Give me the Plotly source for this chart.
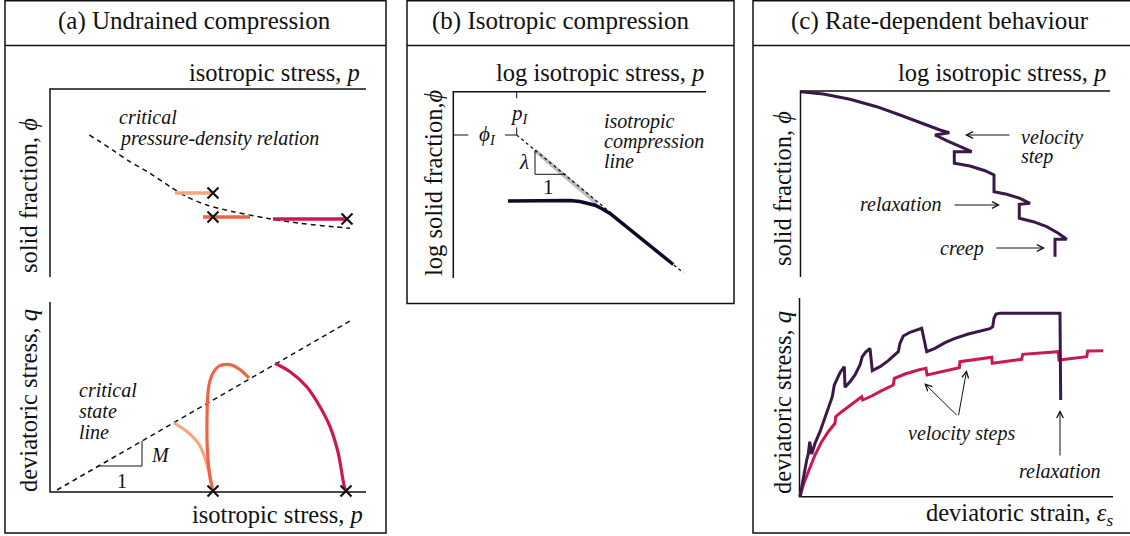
import plotly.graph_objects as go

W, H = 1130, 536
FONT = "Liberation Serif"
INK = "#111111"
PEACH = "#F5A680"
ORANGE = "#EF6445"
CRIMSON = "#C91A4F"
PURPLE = "#3A1848"
NAVY = "#0B0C26"
GREY = "#BDBDBD"

# ---------------- panel frames ----------------
PANEL_LEFT = [5, 407, 753]
PANEL_RIGHT = [386, 734, 1131]
PANEL_BOTTOM = [533, 303.5, 533]
PANEL_TOP = 0.75
TITLE_DIV = 45.5
PANEL_TITLES = ["(a) Undrained compression", "(b) Isotropic compression",
                "(c) Rate-dependent behaviour"]
TITLE_X = [194, 560, 940]

# ---------------- panel (a) ----------------
A_TOP_AXIS_X = [50, 50, 366]
A_TOP_AXIS_Y = [277, 89, 89]
A_BOT_AXIS_X = [50, 50, 366]
A_BOT_AXIS_Y = [302, 492, 492]

CRIT_PD_X = [89.3, 100, 115, 130, 150, 170, 186.7, 206.7, 233.3, 266.7, 300, 333.3, 350]
CRIT_PD_Y = [135, 141.7, 151.7, 161.7, 173.3, 186.7, 196.7, 205, 211.7, 218.3, 223.3, 226.7, 228.3]

PEACH_TOP_X = [175, 213]
PEACH_TOP_Y = [193, 193]
ORANGE_TOP_X = [203, 250]
ORANGE_TOP_Y = [217, 217]
CRIMSON_TOP_X = [273, 347]
CRIMSON_TOP_Y = [219, 219]
TOP_CROSS_X = [213, 213, 347]
TOP_CROSS_Y = [193, 217, 219]

CSL_X = [57, 350]
CSL_Y = [490, 321]
SLOPE_A_X = [98, 142, 142]
SLOPE_A_Y = [466, 466, 441]

PEACH_BOT_X = [174, 185, 193, 200, 205, 209, 212, 213]
PEACH_BOT_Y = [423, 430, 437, 446, 458, 472, 487, 491]
ORANGE_BOT_X = [213, 210, 208, 207, 207, 207.5, 209, 213, 219, 226.7, 233, 239, 244, 249]
ORANGE_BOT_Y = [491, 477, 460, 440, 420, 400, 385, 373, 366, 364.3, 365.5, 369, 373, 378]
CRIMSON_BOT_X = [275, 290, 306.7, 320, 330, 338.3, 344.3, 346]
CRIMSON_BOT_Y = [363.3, 371.7, 386.7, 406.7, 426.7, 453.3, 486.7, 491]
BOT_CROSS_X = [213, 346]
BOT_CROSS_Y = [491, 491]

# ---------------- panel (b) ----------------
B_AXIS_X = [453.3, 453.3, 706]
B_AXIS_Y = [278, 91.7, 91.7]
ICL_X = [516.7, 683.3]
ICL_Y = [135, 272.7]
ICL_SHADE_X = [535, 597]
ICL_SHADE_Y = [150.5, 203.5]
SLOPE_B_X = [535, 535, 566]
SLOPE_B_Y = [150.5, 174.3, 174.3]
PI_TICK_X = [516.7, 516.7]
PI_TICK_UP_Y = [91.7, 98.3]
PI_TICK_LO_Y = [127.5, 135]
PHI_TICK_L_X = [453.3, 468.3]
PHI_TICK_R_X = [505, 516.7]
PHI_TICK_Y = [135, 135]
NAVY_X = [508, 530, 555, 570, 580, 588, 595, 602, 610, 673.3]
NAVY_Y = [201, 200.6, 200.3, 200.6, 201.5, 203, 205.2, 208.8, 213.5, 264.5]

# ---------------- panel (c) ----------------
C_TOP_AXIS_X = [800.5, 800.5, 1110]
C_TOP_AXIS_Y = [277, 91, 91]
C_BOT_AXIS_X = [799.5, 799.5, 1113]
C_BOT_AXIS_Y = [298, 496.7, 496.7]

COMP_X = [801, 823.3, 850, 876.7, 900, 923.3, 940, 949.3, 935, 946.7, 960, 971.7,
          954.3, 954.3, 970, 985, 994, 994, 1006.7, 1020, 1030, 1019.3, 1019.3,
          1033.3, 1046.7, 1058.3, 1066.7, 1055, 1055]
COMP_Y = [91.7, 94, 99.3, 106.7, 115, 124, 130, 132.7, 135, 140.7, 146.7, 151.7,
          151.7, 163.3, 166, 170.7, 175, 191.7, 194.3, 198.3, 203.3, 204.3, 218.3,
          221.7, 226.7, 233.3, 239.3, 239.3, 256.7]

SHEAR_A_X = [800, 803.3, 806.7, 808.3, 809.7, 811.7, 815, 820, 825, 830, 832.3, 834.3,
             836.7, 840, 844.3, 845, 850, 855, 860, 862.3, 865.7, 870, 872.3, 880,
             888.3, 895, 898.3, 900, 903.3, 910, 921.7, 926.7, 935, 945, 955, 968.3,
             981.7, 990, 992.7, 994, 996, 1000, 1060, 1060.7]
SHEAR_A_Y = [496.7, 476.7, 460, 454, 441.7, 454, 443.3, 431.7, 418.3, 405, 396.7, 385,
             379, 372.7, 366.7, 387.3, 381.7, 375, 365, 356.7, 352, 348.3, 370.7, 366.7,
             360.7, 355, 351.7, 343.3, 336, 332.3, 328.3, 351.7, 348.3, 342.7, 338.3, 334,
             330.7, 328.7, 326.7, 318.3, 314, 313.3, 313.3, 400]

SHEAR_B_X = [800, 803.3, 808.3, 815, 821.7, 828.3, 835, 835.7, 841.7, 851.7, 861.7,
             862.7, 871.7, 881.7, 893.3, 894.3, 905, 918.3, 926, 927, 938.3, 950,
             959.3, 960, 971.7, 985, 991.7, 992.3, 1021.7, 1022.7, 1058.3, 1059,
             1086.7, 1087.7, 1103.3]
SHEAR_B_Y = [496.7, 485, 471.7, 455, 441.7, 431.7, 423.3, 416.7, 411.7, 404, 396.7,
             400, 396, 390.7, 385, 378.3, 374, 370, 368.3, 375, 372.7, 370,
             367.7, 361.7, 360, 357.7, 357.3, 363.3, 359.3, 354.3, 351.7, 360,
             356.7, 351, 350.7]

fig = go.Figure()


def line(xs, ys, color, width, dash=None, shape="linear"):
    fig.add_trace(go.Scatter(
        x=xs, y=ys, mode="lines", hoverinfo="skip", showlegend=False,
        line=dict(color=color, width=width, dash=dash, shape=shape, smoothing=0.8)))


def crosses(xs, ys):
    fig.add_trace(go.Scatter(
        x=xs, y=ys, mode="markers", hoverinfo="skip", showlegend=False,
        marker=dict(symbol="x-thin", size=11, line=dict(color=INK, width=2.2))))


annotations = []


def txt(x, y, s, size, xanchor="center", angle=0, yanchor="middle"):
    annotations.append(dict(
        x=x, y=y, xref="x", yref="y", text=s, showarrow=False,
        xanchor=xanchor, yanchor=yanchor, textangle=angle,
        font=dict(family=FONT, size=size, color=INK)))


def arrow(x0, y0, x1, y1):
    annotations.append(dict(
        x=x1, y=y1, ax=x0, ay=y0, xref="x", yref="y", axref="x", ayref="y",
        text="", showarrow=True, arrowhead=5, arrowsize=1.3, arrowwidth=1,
        arrowcolor=INK, standoff=0, startstandoff=0))


shapes = []
for l, r, b, t in zip(PANEL_LEFT, PANEL_RIGHT, PANEL_BOTTOM, PANEL_TITLES):
    shapes.append(dict(type="rect", xref="x", yref="y", x0=l, x1=r, y0=PANEL_TOP, y1=b,
                       line=dict(color=INK, width=1.5)))
    shapes.append(dict(type="line", xref="x", yref="y", x0=l, x1=r, y0=TITLE_DIV,
                       y1=TITLE_DIV, line=dict(color=INK, width=1.5)))
for x, t in zip(TITLE_X, PANEL_TITLES):
    txt(x, 21, t, 25)

AX = dict(color=INK, width=1.5)

# ----- panel (a) -----
line(A_TOP_AXIS_X, A_TOP_AXIS_Y, INK, 1.5)
line(A_BOT_AXIS_X, A_BOT_AXIS_Y, INK, 1.5)
line(CRIT_PD_X, CRIT_PD_Y, INK, 1.5, dash="5px,4px", shape="spline")
line(PEACH_TOP_X, PEACH_TOP_Y, PEACH, 3.5)
line(ORANGE_TOP_X, ORANGE_TOP_Y, ORANGE, 3.5)
line(CRIMSON_TOP_X, CRIMSON_TOP_Y, CRIMSON, 3.5)
crosses(TOP_CROSS_X, TOP_CROSS_Y)
line(CSL_X, CSL_Y, INK, 1.5, dash="5px,4px")
line(SLOPE_A_X, SLOPE_A_Y, INK, 1)
line(PEACH_BOT_X, PEACH_BOT_Y, PEACH, 3.2, shape="spline")
line(ORANGE_BOT_X, ORANGE_BOT_Y, ORANGE, 3.2, shape="spline")
line(CRIMSON_BOT_X, CRIMSON_BOT_Y, CRIMSON, 3.2, shape="spline")
crosses(BOT_CROSS_X, BOT_CROSS_Y)

txt(362, 72, "isotropic stress, <i>p</i>", 24.5, xanchor="right")
txt(365, 514, "isotropic stress, <i>p</i>", 24.5, xanchor="right")
txt(28, 196, "solid fraction, <i>ϕ</i>", 24.5, angle=-90)
txt(28, 401, "deviatoric stress, <i>q</i>", 24.5, angle=-90)
txt(117, 117, "<i>critical</i>", 20, xanchor="left")
txt(117, 138, "<i>pressure-density relation</i>", 20, xanchor="left")
txt(77, 390, "<i>critical</i>", 20, xanchor="left")
txt(77, 411, "<i>state</i>", 20, xanchor="left")
txt(77, 432, "<i>line</i>", 20, xanchor="left")
txt(160, 455, "<i>M</i>", 20)
txt(122, 481, "1", 20)

# ----- panel (b) -----
line(B_AXIS_X, B_AXIS_Y, INK, 1.5)
line(ICL_SHADE_X, ICL_SHADE_Y, GREY, 4)
line(ICL_X, ICL_Y, INK, 1.3, dash="3px,3px")
line(SLOPE_B_X, SLOPE_B_Y, INK, 1)
line(PI_TICK_X, PI_TICK_UP_Y, INK, 1)
line(PI_TICK_X, PI_TICK_LO_Y, INK, 1)
line(PHI_TICK_L_X, PHI_TICK_Y, INK, 1)
line(PHI_TICK_R_X, PHI_TICK_Y, INK, 1)
line(NAVY_X, NAVY_Y, NAVY, 3.5)

txt(706, 72, "log isotropic stress, <i>p</i>", 24.5, xanchor="right")
txt(433, 183, "log solid fraction,<i>ϕ</i>", 24.5, angle=-90)
txt(519, 114, "<i>p</i><sub><i>I</i></sub>", 21)
txt(487, 135, "<i>ϕ</i><sub><i>I</i></sub>", 21)
txt(524, 162, "<i>λ</i>", 21)
txt(548, 187, "1", 21)
txt(602, 121, "<i>isotropic</i>", 20, xanchor="left")
txt(602, 141, "<i>compression</i>", 20, xanchor="left")
txt(602, 161, "<i>line</i>", 20, xanchor="left")

# ----- panel (c) -----
line(C_TOP_AXIS_X, C_TOP_AXIS_Y, INK, 1.5)
line(C_BOT_AXIS_X, C_BOT_AXIS_Y, INK, 1.5)
line(COMP_X, COMP_Y, PURPLE, 3)
line(SHEAR_B_X, SHEAR_B_Y, CRIMSON, 3)
line(SHEAR_A_X, SHEAR_A_Y, PURPLE, 3)

txt(1108, 72, "log isotropic stress, <i>p</i>", 24.5, xanchor="right")
txt(1115, 514, "deviatoric strain, <i>ε</i><sub><i>s</i></sub>", 24.5, xanchor="right")
txt(782, 189, "solid fraction, <i>ϕ</i>", 24.5, angle=-90)
txt(782, 403, "deviatoric stress, <i>q</i>", 24.5, angle=-90)

txt(1019, 137, "<i>velocity</i>", 20, xanchor="left")
txt(1019, 156, "<i>step</i>", 20, xanchor="left")
arrow(1011, 135, 965, 135)
txt(943, 204, "<i>relaxation</i>", 20, xanchor="right")
arrow(953, 205, 1000, 205)
txt(986, 248, "<i>creep</i>", 20, xanchor="right")
arrow(995, 248, 1045, 248)

txt(961, 433, "<i>velocity steps</i>", 20)
arrow(958.3, 416.7, 924.3, 383.3)
arrow(958.3, 416.7, 966.7, 370)
txt(1059, 471, "<i>relaxation</i>", 20)
arrow(1060, 457, 1060, 410)

fig.update_layout(
    width=W, height=H, margin=dict(l=0, r=0, t=0, b=0),
    paper_bgcolor="white", plot_bgcolor="white",
    xaxis=dict(range=[0, W], visible=False, fixedrange=True, domain=[0, 1]),
    yaxis=dict(range=[H, 0], visible=False, fixedrange=True, domain=[0, 1]),
    shapes=shapes, annotations=annotations, showlegend=False,
)

fig.write_html("out.html")
